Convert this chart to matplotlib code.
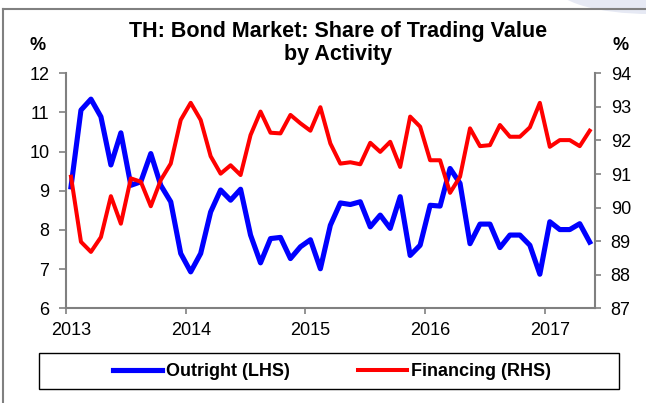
import matplotlib.pyplot as plt
from matplotlib.patches import Rectangle, Ellipse
from matplotlib.lines import Line2D
import numpy as np

plt.rcParams['font.family'] = ['Liberation Sans', 'DejaVu Sans']

# monthly data, Jan 2013 .. May 2017
outright = [9.10, 11.06, 11.34, 10.89, 9.66, 10.48, 9.14, 9.23, 9.95, 9.14, 8.72,
            7.40, 6.93, 7.40, 8.46, 9.02, 8.76, 9.04, 7.87, 7.16, 7.78, 7.81,
            7.27, 7.57, 7.75, 7.01, 8.12, 8.69, 8.65, 8.72, 8.08, 8.38, 8.04,
            8.85, 7.35, 7.61, 8.63, 8.61, 9.57, 9.19, 7.65, 8.15, 8.15, 7.55,
            7.87, 7.87, 7.61, 6.87, 8.21, 8.01, 8.01, 8.16, 7.69]
financing = [90.92, 88.98, 88.68, 89.12, 90.34, 89.52, 90.87, 90.77, 90.04, 90.82, 91.31,
             92.61, 93.12, 92.61, 91.53, 91.01, 91.26, 90.97, 92.16, 92.86, 92.23, 92.21,
             92.76, 92.51, 92.29, 92.99, 91.91, 91.31, 91.35, 91.29, 91.93, 91.66, 91.96,
             91.21, 92.71, 92.41, 91.41, 91.41, 90.44, 90.92, 92.36, 91.83, 91.86, 92.46,
             92.11, 92.11, 92.39, 93.12, 91.81, 92.01, 92.01, 91.83, 92.29]
years = ['2013', '2014', '2015', '2016', '2017']
left_ticks = [6, 7, 8, 9, 10, 11, 12]
right_ticks = [87, 88, 89, 90, 91, 92, 93, 94]

W, H = 646, 403
grey = '#808080'
fig = plt.figure(figsize=(W / 100, H / 100), dpi=100)

# slide frame + background swoosh
fig.add_artist(Ellipse((650 / W, 1 - (-14) / H), 190 / W, 56 / H,
                       transform=fig.transFigure, color='#e6e9f4', lw=0))
fig.add_artist(Line2D([3 / W, 3 / W], [0, 1 - 9 / H], transform=fig.transFigure,
                      color=grey, lw=1.5))
fig.add_artist(Line2D([3 / W, 1], [1 - 9 / H, 1 - 9 / H], transform=fig.transFigure,
                      color=grey, lw=1.5))

ax = fig.add_axes([66 / W, 1 - 308.3 / H, (594.7 - 66) / W, (308.3 - 73.3) / H])
ax2 = ax.twinx()

n = len(outright)
x = np.arange(n) + 0.5
l1, = ax.plot(x, outright, color='#0000ff', lw=3.7, solid_joinstyle='round')
l2, = ax2.plot(x, financing, color='#ff0000', lw=2.9, solid_joinstyle='round')

ax.set_xlim(0, n)
ax.set_ylim(6, 12)
ax2.set_ylim(87, 94)
ax.set_yticks(left_ticks)
ax2.set_yticks(right_ticks)

ax.set_xticks(np.arange(len(years)) * 12)
ax.set_xticklabels([])
ax.set_xticks(np.arange(len(years)) * 12 + 0.5, minor=True)
ax.set_xticklabels(years, minor=True)

for a in (ax, ax2):
    for s in a.spines.values():
        s.set_visible(False)
        s.set_color(grey)
        s.set_linewidth(1.5)
ax.spines['left'].set_visible(True)
ax.spines['bottom'].set_visible(True)
ax2.spines['right'].set_visible(True)

ax.tick_params(axis='y', direction='out', length=5, width=1.2, color=grey,
               labelsize=13, pad=7)
ax2.tick_params(axis='y', direction='out', length=4.5, width=1.2, color=grey,
                labelsize=13, pad=7)
ax.tick_params(axis='x', which='major', direction='out', length=4, width=1.2, color=grey)
ax.tick_params(axis='x', which='minor', length=0, labelsize=13, pad=10)

fig.text(338 / W, 1 - 21 / H, 'TH: Bond Market: Share of Trading Value\nby Activity',
         ha='center', va='top', fontsize=15.5, fontweight='bold', linespacing=1.12)
fig.text(38 / W, 1 - 45 / H, '%', ha='center', va='center', fontsize=13, fontweight='bold')
fig.text(621 / W, 1 - 45 / H, '%', ha='center', va='center', fontsize=13, fontweight='bold')

# legend box below the plot
fig.add_artist(Rectangle((39.3 / W, 1 - 389.3 / H), (619 - 39.3) / W, 36 / H,
                         transform=fig.transFigure, fill=False, ec='black', lw=1))
fig.legend([l1, l2], ['Outright (LHS)', 'Financing (RHS)'], loc='center',
           bbox_to_anchor=(332 / W, 1 - 372 / H), ncol=2, frameon=False,
           prop={'size': 13, 'weight': 'bold'}, handlelength=2.7,
           handletextpad=0.2, columnspacing=3.8)

fig.savefig('out.png', dpi=100)
